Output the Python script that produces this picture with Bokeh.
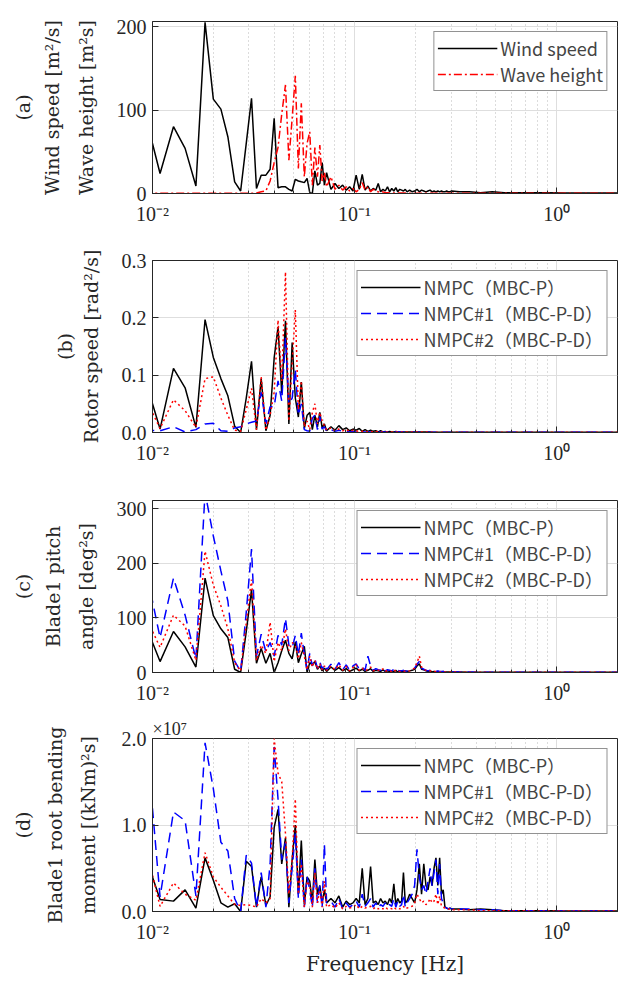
import math
from bokeh.plotting import figure
from bokeh.layouts import column, row
from bokeh.models import FixedTicker, Legend, LegendItem, PrintfTickFormatter
from bokeh.core.properties import value
from bokeh.embed import file_html
from bokeh.resources import INLINE

# ---------------- data ----------------
freq = [0.0091, 0.0109, 0.0127, 0.0145, 0.0164, 0.0182, 0.0200, 0.0218, 0.0236, 0.0255,
        0.0273, 0.0291, 0.0309, 0.0327, 0.0345, 0.0364, 0.0382, 0.0400, 0.0418, 0.0436,
        0.0455, 0.0473, 0.0491, 0.0509, 0.0527, 0.0545, 0.0564, 0.0582, 0.0600, 0.0618,
        0.0636, 0.0655, 0.0673, 0.0691, 0.0709, 0.0727,
        0.0764, 0.0800, 0.0836, 0.0873, 0.0909, 0.0945, 0.0982, 0.1018, 0.1055, 0.1091,
        0.1127, 0.1164, 0.1200, 0.1236, 0.1273, 0.1309, 0.1345, 0.1382, 0.1418, 0.1455,
        0.1491, 0.1527, 0.1564, 0.1600, 0.1636, 0.1673, 0.1709, 0.1745, 0.1782, 0.1818,
        0.1873, 0.1927, 0.1982, 0.2036, 0.2091, 0.2145, 0.2200, 0.2255, 0.2309, 0.2364,
        0.2418, 0.2473, 0.2527, 0.2582, 0.2636, 0.2691, 0.2745, 0.2800, 0.2855, 0.2909,
        0.2964, 0.3018,
        0.33, 0.37, 0.42, 0.48, 0.55, 0.65, 0.75, 0.9, 1.1, 1.3, 1.6, 2.0]

wind_speed = [99, 24, 80, 54, 9, 205, 113, 101, 68, 14,
              3, 60, 114, 6, 22, 22, 29, 90, 7, 8,
              8, 5, 3, 17, 15, 14, 13, 18, 1, 0,
              27, 10, 12, 37, 10, 25,
              5, 12, 6, 10, 4, 8, 3, 22, 5, 23,
              4, 9, 3, 6, 4, 12, 2, 5, 3, 8,
              2, 6, 3, 7, 2, 5, 4, 3, 5, 2,
              4, 2, 3, 5, 2, 4, 3, 2, 3, 4,
              2, 3, 2, 3, 2, 3, 2, 2, 3, 2, 2, 3,
              2, 2, 1, 2, 1, 1, 1, 1, 0.5, 0.5, 0.5, 0.5]

wave_height = [0.2, 0.2, 0.2, 0.2, 0.2, 0.2, 0.2, 0.2, 0.2, 0.2,
               0.2, 0.2, 0.3, 0.5, 2, 3, 15, 37, 55, 95,
               130, 40, 90, 141, 30, 108, 20, 60, 74, 10,
               55, 20, 58, 15, 25, 8,
               20, 5, 10, 4, 8, 3, 6, 2, 5, 13,
               4, 8, 2, 5, 3, 2, 1.5, 2, 1, 1,
               0.5, 0.5, 0.5, 0.5, 0.5, 0.5, 0.5, 0.5, 0.5, 0.5,
               0.3, 0.3, 0.3, 0.3, 0.3, 0.3, 0.3, 0.3, 0.3, 0.3,
               0.3, 0.3, 0.3, 0.3, 0.3, 0.3, 0.3, 0.3, 0.3, 0.3, 0.3, 0.3,
               0.2, 0.2, 0.2, 0.2, 0.2, 0.2, 0.2, 0.2, 0.2, 0.2, 0.2, 0.2]

rotor_p = [0.098, 0.006, 0.112, 0.078, 0.009, 0.197, 0.131, 0.094, 0.064, 0.011,
           0.0, 0.06, 0.124, 0.005, 0.094, 0.003, 0.03, 0.13, 0.184, 0.068,
           0.195, 0.015, 0.157, 0.06, 0.027, 0.088, 0.007, 0.03, 0.035, 0.005,
           0.03, 0.01, 0.035, 0.008, 0.015, 0.003,
           0.01, 0.004, 0.012, 0.005, 0.008, 0.003, 0.006, 0.004, 0.007, 0.002,
           0.005, 0.002, 0.004, 0.002, 0.003, 0.001, 0.003, 0.001, 0.002, 0.001,
           0.002, 0.001, 0.001, 0.002, 0.001, 0.001, 0.001, 0.001, 0.001, 0.001,
           0.001, 0.001, 0.001, 0.001, 0.001, 0.001, 0.001, 0.001, 0.001, 0.001,
           0.0005, 0.0005, 0.0005, 0.0005, 0.0005, 0.0005, 0.0005, 0.0005, 0.0005, 0.0005, 0.0005, 0.0005,
           0.0003, 0.0003, 0.0003, 0.0003, 0.0003, 0.0003, 0.0003, 0.0003, 0.0003, 0.0003, 0.0003, 0.0003]

rotor_pd1 = [0.004, 0.003, 0.01, 0.001, 0.005, 0.015, 0.016, 0.003, 0.002, 0.008,
             0.01, 0.015, 0.018, 0.02, 0.07, 0.015, 0.045, 0.045, 0.09, 0.055,
             0.165, 0.05, 0.06, 0.11, 0.03, 0.05, 0.005, 0.003, 0.002, 0.025,
             0.03, 0.005, 0.028, 0.006, 0.01, 0.002,
             0.005, 0.002, 0.004, 0.002, 0.003, 0.001, 0.002, 0.001, 0.002, 0.001,
             0.001, 0.001, 0.001, 0.001, 0.001, 0.001, 0.001, 0.001, 0.001, 0.001,
             0.001, 0.001, 0.001, 0.001, 0.001, 0.001, 0.001, 0.001, 0.001, 0.001,
             0.0005, 0.0005, 0.0005, 0.0005, 0.0005, 0.0005, 0.0005, 0.0005, 0.0005, 0.0005,
             0.0005, 0.0005, 0.0005, 0.0005, 0.0005, 0.0005, 0.0005, 0.0005, 0.0005, 0.0005, 0.0005, 0.0005,
             0.0003, 0.0003, 0.0003, 0.0003, 0.0003, 0.0003, 0.0003, 0.0003, 0.0003, 0.0003, 0.0003, 0.0003]

rotor_pd2 = [0.065, 0.007, 0.057, 0.038, 0.009, 0.094, 0.097, 0.06, 0.03, 0.004,
             0.002, 0.04, 0.077, 0.005, 0.097, 0.004, 0.03, 0.07, 0.196, 0.09,
             0.28, 0.02, 0.12, 0.214, 0.04, 0.09, 0.01, 0.02, 0.005, 0.035,
             0.05, 0.015, 0.035, 0.02, 0.012, 0.004,
             0.008, 0.003, 0.006, 0.003, 0.005, 0.002, 0.004, 0.002, 0.003, 0.002,
             0.002, 0.001, 0.002, 0.001, 0.002, 0.001, 0.001, 0.001, 0.001, 0.001,
             0.001, 0.001, 0.001, 0.001, 0.001, 0.001, 0.001, 0.001, 0.001, 0.001,
             0.0008, 0.0008, 0.0008, 0.0008, 0.0008, 0.0008, 0.0008, 0.0008, 0.0008, 0.0008,
             0.0005, 0.0005, 0.0005, 0.0005, 0.0005, 0.0005, 0.0005, 0.0005, 0.0005, 0.0005, 0.0005, 0.0005,
             0.0003, 0.0003, 0.0003, 0.0003, 0.0003, 0.0003, 0.0003, 0.0003, 0.0003, 0.0003, 0.0003, 0.0003]

pitch_p = [93, 20, 75, 47, 10, 173, 104, 80, 64, 6,
           0, 75, 152, 17, 44, 17, 35, 0, 18, 40,
           59, 35, 25, 56, 18, 34, 48, 0, 18, 14,
           20, 6, 12, 3, 8, 2,
           10, 4, 9, 3, 7, 2, 5, 8, 3, 6,
           2, 4, 7, 2, 4, 3, 2, 5, 2, 3,
           2, 3, 2, 4, 1, 3, 2, 2, 3, 2,
           3, 4, 6, 12, 16, 6, 5, 3, 2, 3,
           1, 2, 1, 2, 1, 1, 2, 1, 1, 1, 1, 1,
           1, 0.5, 0.5, 0.5, 0.5, 0.3, 0.3, 0.3, 0.3, 0.3, 0.3, 0.3]

pitch_pd1 = [203, 64, 173, 105, 25, 330, 250, 186, 131, 21,
             2, 110, 226, 30, 70, 38, 55, 30, 68, 50,
             99, 50, 45, 68, 32, 72, 33, 5, 35, 12,
             25, 8, 20, 6, 15, 5,
             15, 6, 18, 5, 14, 4, 12, 16, 6, 10,
             4, 30, 12, 4, 7, 5, 4, 9, 3, 5,
             4, 3, 6, 2, 4, 3, 3, 4, 2, 3,
             4, 5, 8, 15, 20, 8, 6, 4, 3, 4,
             2, 3, 2, 3, 2, 2, 2, 1, 1, 1, 1, 1,
             1, 1, 0.5, 0.5, 0.5, 0.5, 0.3, 0.3, 0.3, 0.3, 0.3, 0.3]

pitch_pd2 = [108, 46, 105, 85, 22, 222, 160, 122, 80, 18,
             3, 90, 170, 22, 50, 35, 92, 20, 55, 40,
             80, 40, 55, 50, 25, 55, 30, 5, 30, 10,
             22, 6, 16, 5, 12, 4,
             12, 5, 14, 4, 11, 3, 9, 14, 4, 8,
             3, 6, 10, 3, 5, 4, 3, 7, 2, 4,
             3, 2, 5, 2, 3, 2, 2, 3, 2, 2,
             3, 5, 8, 18, 30, 10, 6, 4, 3, 3,
             2, 2, 2, 2, 1, 1, 1, 1, 1, 1, 1, 1,
             0.5, 0.5, 0.5, 0.5, 0.5, 0.5, 0.5, 0.5, 0.5, 0.5, 0.5, 0.5]

# bending moment, in units of 1e7 (kNm)^2 s
moment_p = [0.68, 0.14, 0.12, 0.25, 0.04, 0.62, 0.36, 0.1, 0.05, 0.09,
            0.0, 0.58, 0.52, 0.05, 0.4, 0.07, 0.17, 0.97, 1.18, 0.55,
            0.85, 0.05, 0.6, 1.0, 0.2, 0.82, 0.08, 0.4, 0.35, 0.1,
            0.6, 0.2, 0.3, 0.1, 0.25, 0.1,
            0.15, 0.1, 0.18, 0.05, 0.12, 0.08, 0.1, 0.15, 0.1, 0.5,
            0.08, 0.15, 0.52, 0.1, 0.12, 0.08, 0.15, 0.1, 0.12, 0.08,
            0.15, 0.1, 0.32, 0.08, 0.15, 0.1, 0.12, 0.45, 0.1, 0.12,
            0.2, 0.15, 0.1, 0.25, 0.55, 0.2, 0.55, 0.3, 0.25, 0.4,
            0.3, 0.5, 0.62, 0.3, 0.62, 0.2, 0.25, 0.05, 0.04, 0.03, 0.04, 0.03,
            0.03, 0.02, 0.03, 0.02, 0.01, 0.01, 0.01, 0.01, 0.005, 0.005, 0.005, 0.005]

moment_pd1 = [2.3, 0.17, 1.15, 1.05, 0.18, 1.95, 1.42, 0.8, 0.7, 0.15,
              0.0, 0.65, 0.56, 0.05, 0.45, 0.05, 0.55, 1.9, 1.3, 0.6,
              0.8, 0.1, 0.5, 0.9, 0.15, 0.6, 0.05, 0.4, 0.25, 0.05,
              0.5, 0.1, 0.3, 0.05, 0.78, 0.1,
              0.12, 0.05, 0.15, 0.03, 0.1, 0.05, 0.08, 0.12, 0.05, 0.2,
              0.06, 0.1, 0.15, 0.05, 0.1, 0.04, 0.08, 0.06, 0.1, 0.05,
              0.08, 0.06, 0.15, 0.05, 0.12, 0.06, 0.08, 0.2, 0.05, 0.1,
              0.15, 0.2, 0.3, 0.72, 0.4, 0.25, 0.3, 0.2, 0.35, 0.5,
              0.3, 0.45, 0.6, 0.2, 0.55, 0.15, 0.1, 0.05, 0.04, 0.03, 0.04, 0.03,
              0.03, 0.03, 0.02, 0.02, 0.01, 0.01, 0.01, 0.005, 0.005, 0.005, 0.005, 0.005]

moment_pd2 = [0.81, 0.06, 0.33, 0.2, 0.13, 0.68, 0.4, 0.28, 0.18, 0.08,
              0.07, 0.08, 0.07, 0.05, 0.15, 0.1, 0.15, 2.0, 1.6, 1.5,
              0.9, 0.2, 0.6, 1.3, 0.2, 0.55, 0.05, 0.35, 0.3, 0.05,
              0.45, 0.1, 0.25, 0.05, 0.35, 0.05,
              0.08, 0.04, 0.1, 0.03, 0.06, 0.04, 0.05, 0.08, 0.03, 0.06,
              0.04, 0.05, 0.06, 0.03, 0.05, 0.03, 0.04, 0.03, 0.05, 0.03,
              0.04, 0.03, 0.05, 0.03, 0.04, 0.03, 0.04, 0.06, 0.03, 0.04,
              0.05, 0.06, 0.1, 0.2, 0.15, 0.1, 0.12, 0.08, 0.1, 0.15,
              0.1, 0.12, 0.2, 0.08, 0.18, 0.06, 0.05, 0.04, 0.03, 0.03, 0.03, 0.02,
              0.02, 0.02, 0.01, 0.01, 0.01, 0.01, 0.005, 0.005, 0.005, 0.005, 0.005, 0.005]

x_major = [0.01, 0.1, 1.0]
x_minor = [0.02, 0.03, 0.04, 0.05, 0.06, 0.07, 0.08, 0.09,
           0.2, 0.3, 0.4, 0.5, 0.6, 0.7, 0.8, 0.9, 2.0]
x_labels = {0.01: "10⁻²", 0.1: "10⁻¹", 1.0: "10⁰"}

legend_a = ["Wind speed", "Wave height"]
legend_ctrl = ["NMPC（MBC-P）", "NMPC#1（MBC-P-D）", "NMPC#2（MBC-P-D）"]

ylabel_a = ["(a)", "Wind speed [m²/s]", "Wave height [m²s]"]
ylabel_b = ["(b)", "Rotor speed [rad²/s]"]
ylabel_c = ["(c)", "Blade1 pitch", "angle [deg²s]"]
ylabel_d = ["(d)", "Blade1 root bending", "moment [(kNm)²s]"]

# ---------------- layout ----------------
X_RANGE = (0.01, 2.0)
LABEL_W = 110          # width of the strip holding the rotated y-labels
MAIN_W = 510
BORDER_L = 42
BORDER_R = 3

SERIF_TICK = "Liberation Serif"
SERIF_LABEL = "DejaVu Serif"
LEG_FONT = "Noto Sans CJK JP"
AX = "#262626"

H = [240, 240, 234, 264]
TOP = [21, 20, 20, 24]
BOT = [47, 48, 42, 67]
TOTAL_H = sum(H)


def make_panel(height, top, bottom, y_end, y_ticks, y_fmt, series, leg_labels):
    p = figure(width=MAIN_W, height=height, x_axis_type="log", x_range=X_RANGE,
               y_range=(0, y_end), output_backend="svg", toolbar_location=None,
               min_border_left=BORDER_L, min_border_right=BORDER_R,
               min_border_top=top, min_border_bottom=bottom)
    p.background_fill_color = "white"
    p.border_fill_color = "white"
    p.outline_line_color = AX
    p.outline_line_width = 1
    p.outline_line_alpha = 1

    xt = FixedTicker(ticks=x_major, minor_ticks=x_minor)
    yt = FixedTicker(ticks=y_ticks)
    p.xaxis.ticker = xt
    p.yaxis.ticker = yt
    p.xgrid.ticker = xt
    p.ygrid.ticker = yt
    p.xaxis.major_label_overrides = x_labels
    p.yaxis.formatter = PrintfTickFormatter(format=y_fmt)

    for ax in (p.xaxis[0], p.yaxis[0]):
        ax.axis_line_color = AX
        ax.major_tick_line_color = AX
        ax.minor_tick_line_color = AX
        ax.major_tick_in = 6
        ax.major_tick_out = 0
        ax.minor_tick_in = 3
        ax.minor_tick_out = 0
        ax.major_label_text_font = SERIF_TICK
        ax.major_label_text_font_size = "20px"
        ax.major_label_text_color = AX
    p.yaxis.minor_tick_line_color = None
    p.xaxis.major_label_standoff = 9
    p.yaxis.major_label_standoff = 6

    p.xgrid.grid_line_color = "#dedede"
    p.ygrid.grid_line_color = "#dedede"
    p.xgrid.minor_grid_line_color = "#b8b8b8"
    p.xgrid.minor_grid_line_dash = "1 3"

    items = []
    for (vals, color, dash), lab in zip(series, leg_labels):
        r = p.line(freq, vals, line_color=color, line_width=1.5, line_dash=dash)
        items.append(LegendItem(label=lab, renderers=[r]))
    leg = Legend(items=items, location="top_right")
    leg.margin = 10
    leg.padding = 3
    leg.spacing = 0
    leg.label_height = 20
    leg.glyph_height = 20
    leg.glyph_width = 60
    leg.label_standoff = 3
    leg.label_text_font = LEG_FONT
    leg.label_text_font_size = "18px"
    leg.border_line_color = AX
    leg.border_line_width = 1
    leg.background_fill_alpha = 1
    p.add_layout(leg)
    return p


pa = make_panel(H[0], TOP[0], BOT[0], 206, [0, 100, 200], "%d",
                [(wind_speed, "#000000", "solid"), (wave_height, "#ff0000", "8 3 2 3")],
                legend_a)
pb = make_panel(H[1], TOP[1], BOT[1], 0.3, [0, 0.1, 0.2, 0.3], "%.1f",
                [(rotor_p, "#000000", "solid"), (rotor_pd1, "#0000ff", "10 6"),
                 (rotor_pd2, "#ff0000", "2 3")],
                legend_ctrl)
pc = make_panel(H[2], TOP[2], BOT[2], 315, [0, 100, 200, 300], "%d",
                [(pitch_p, "#000000", "solid"), (pitch_pd1, "#0000ff", "10 6"),
                 (pitch_pd2, "#ff0000", "2 3")],
                legend_ctrl)
pd = make_panel(H[3], TOP[3], BOT[3], 2.0, [0, 1, 2], "%.1f",
                [(moment_p, "#000000", "solid"), (moment_pd1, "#0000ff", "10 6"),
                 (moment_pd2, "#ff0000", "2 3")],
                legend_ctrl)

pd.title.text = "×10⁷"
pd.title.align = "left"
pd.title.text_font = SERIF_TICK
pd.title.text_font_size = "18px"
pd.title.text_font_style = "normal"
pd.title.text_color = AX
pd.title.standoff = 0
pd.title.offset = 0
pd.xaxis.axis_label = "Frequency [Hz]"
pd.xaxis.axis_label_text_font = SERIF_LABEL
pd.xaxis.axis_label_text_font_size = "20px"
pd.xaxis.axis_label_text_font_style = "normal"
pd.xaxis.axis_label_text_color = AX
pd.xaxis.axis_label_standoff = 6

# ---------------- strip with the rotated y-labels (one tall figure) ----------------
strip = figure(width=LABEL_W, height=TOTAL_H, x_range=(0, LABEL_W), y_range=(0, TOTAL_H),
               min_border=0, toolbar_location=None, output_backend="svg",
               x_axis_location=None, y_axis_location=None)
strip.outline_line_color = None
strip.grid.visible = False
strip.background_fill_color = "white"
strip.border_fill_color = "white"

panel_tops = [sum(H[:i]) for i in range(4)]
label_sets = [(ylabel_a, [22, 51, 85]), (ylabel_b, [64, 90]),
              (ylabel_c, [22, 52, 85]), (ylabel_d, [22, 54, 87])]
lx, ly, lt = [], [], []
for i, (lines, xs) in enumerate(label_sets):
    frame_h = H[i] - TOP[i] - BOT[i]
    yc = TOTAL_H - (panel_tops[i] + TOP[i] + frame_h / 2.0)
    for t, x in zip(lines, xs):
        lx.append(x)
        ly.append(yc)
        lt.append(t)
strip.text(x=lx, y=ly, text=lt, angle=math.pi / 2,
           text_align="center", text_baseline="middle",
           text_font=value(SERIF_LABEL), text_font_size=value("19px"), text_color=AX)

layout = row(strip, column(pa, pb, pc, pd, spacing=0), spacing=0)
open("out.html", "w").write(file_html(layout, INLINE))
